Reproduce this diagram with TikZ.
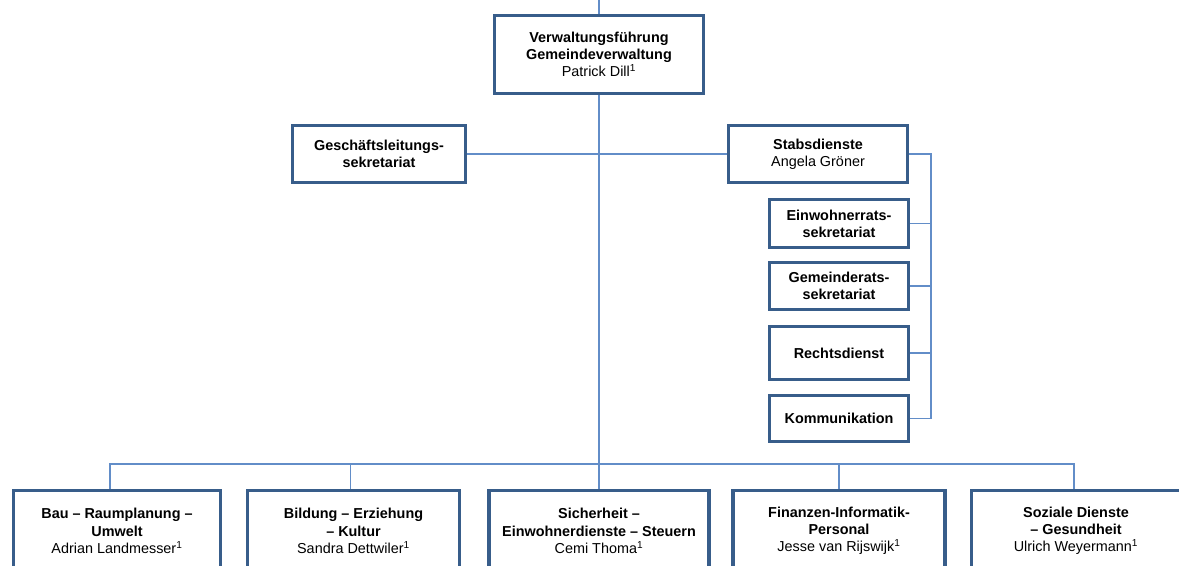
\documentclass[tikz,border=0pt]{standalone}
\usepackage{fontspec}
\setmainfont{Liberation Sans}
\usepackage{xcolor}
\usepackage{tikz}

\begin{document}
\begin{tikzpicture}[x=0.75pt,y=0.75pt,yscale=-1,xscale=1,
	box/.style={draw={rgb, 255:red, 56; green, 93; blue, 138}, line width=2.4pt, fill=white, align=center, inner sep=0pt, font=\fontsize{10.8}{12.9}\selectfont},
	conn/.style={draw={rgb, 255:red, 98; green, 141; blue, 200}, line width=1pt}]
		%set diagram size: 1179 x 565
		\clip (0,0) rectangle (1179,565);
		\fill[white] (0,0) rectangle (1179,565);
		
		%Shape: Top box
		\node[box, minimum width=157pt, minimum height=58.5pt] (top) at (599,54.5) {\textbf{Verwaltungsführung}\\\textbf{Gemeindeverwaltung}\\Patrick Dill\textsuperscript{1}};
		%Shape: Staff boxes
		\node[box, minimum width=130pt, minimum height=42.5pt] (gl) at (379,154) {\textbf{Geschäftsleitungs-}\\\textbf{sekretariat}};
		\node[box, minimum width=134.5pt, minimum height=42.5pt] (stab) at (818,154) {\textbf{Stabsdienste}\\Angela Gröner};
		\node[box, minimum width=104.5pt, minimum height=36pt] (ew) at (839,223.5) {\textbf{Einwohnerrats-}\\\textbf{sekretariat}};
		\node[box, minimum width=104.5pt, minimum height=35.5pt] (gr) at (839,286) {\textbf{Gemeinderats-}\\\textbf{sekretariat}};
		\node[box, minimum width=104.5pt, minimum height=40pt] (rd) at (839,353) {\textbf{Rechtsdienst}};
		\node[box, minimum width=104.5pt, minimum height=35pt] (km) at (839,418.5) {\textbf{Kommunikation}};
		%Shape: Department boxes
		\node[box, minimum width=155.5pt, minimum height=61pt] (b1) at (117,531) {\textbf{Bau -- Raumplanung --}\\\textbf{Umwelt}\\Adrian Landmesser\textsuperscript{1}};
		\node[box, minimum width=159pt, minimum height=61pt] (b2) at (353.5,531) {\textbf{Bildung -- Erziehung}\\\textbf{-- Kultur}\\Sandra Dettwiler\textsuperscript{1}};
		\node[box, minimum width=165pt, minimum height=61pt] (b3) at (599,531) {\textbf{Sicherheit --}\\\textbf{Einwohnerdienste -- Steuern}\\Cemi Thoma\textsuperscript{1}};
		\node[box, minimum width=159pt, minimum height=61pt] (b4) at (839,531) {\textbf{Finanzen-Informatik-}\\\textbf{Personal}\\Jesse van Rijswijk\textsuperscript{1}};
		\node[box, minimum width=157pt, minimum height=61pt] (b5) at (1076,531) {\textbf{Soziale Dienste}\\\textbf{-- Gesundheit}\\Ulrich Weyermann\textsuperscript{1}};
		
		%Straight Lines: coordinates
		\coordinate (up) at (599,0);
		\coordinate (bus) at (599,464);
		\coordinate (br) at (931,154);
		
		%Straight Lines: main line
		\draw[conn] (up) -- (top.north);
		\draw[conn] (top.south) -- (bus) -- (b3.north);
		\draw[conn] (gl.east) -- (stab.west);
		%Straight Lines: staff bracket
		\draw[conn] (stab.east) -- (br) |- (km.east);
		\draw[conn] (ew.east) -- (ew.east -| br);
		\draw[conn] (gr.east) -- (gr.east -| br);
		\draw[conn] (rd.east) -- (rd.east -| br);
		%Straight Lines: department bus
		\draw[conn] ([xshift=-5.25pt]b1.north) |- (bus) -| ([xshift=-1.5pt]b5.north);
		\draw[conn] ([xshift=-2.5pt]b2.north) -- ([xshift=-2.5pt]b2.north |- bus);
		\draw[conn] (b4.north) -- (b4.north |- bus);
		
		\end{tikzpicture}
\end{document}
